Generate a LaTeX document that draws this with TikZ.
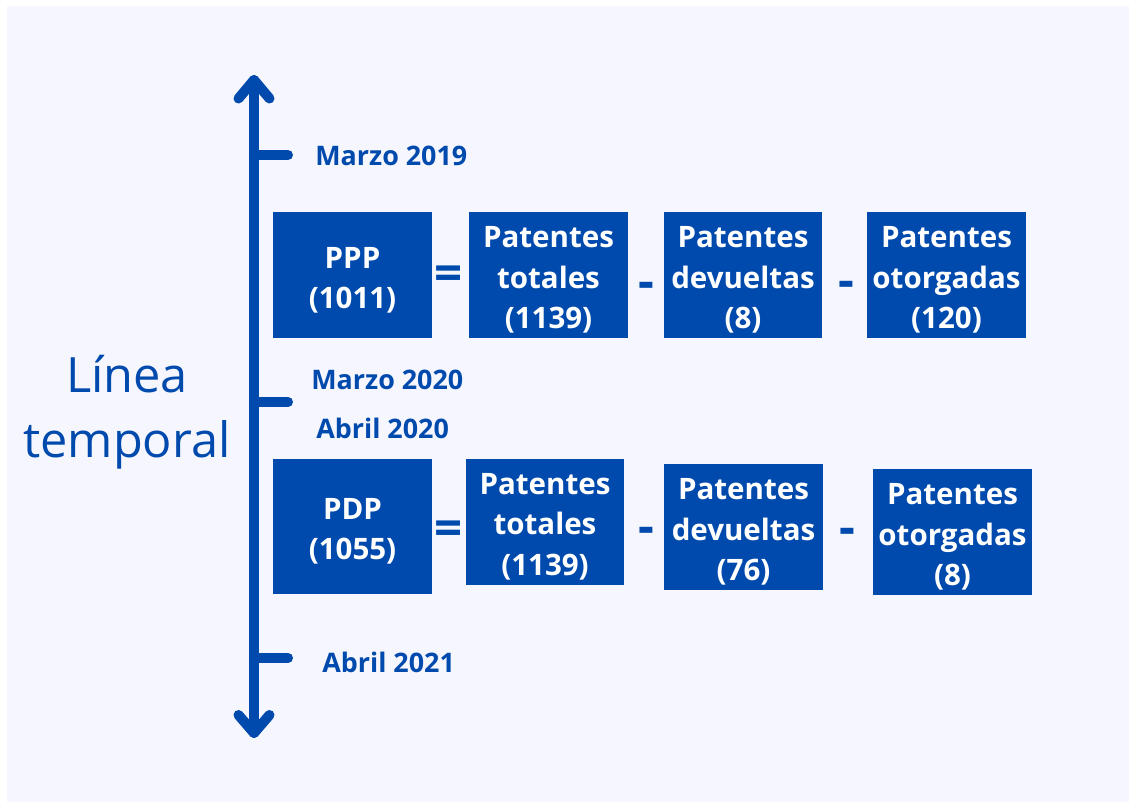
\documentclass[tikz,border=0pt]{standalone}
\usepackage{fontspec}
\setmainfont{Open Sans}
\usepackage{tikz}
\definecolor{tlblue}{RGB}{0,74,173}
\definecolor{tlpanel}{RGB}{245,246,254}
\tikzset{
	patbox/.style={fill=tlblue, inner sep=0pt, minimum width=3.18cm, minimum height=2.52cm},
	pattext/.style={text=white, align=center, inner sep=0pt, font=\bfseries\fontsize{16.8}{23}\selectfont},
	opsign/.style={text=tlblue, inner sep=0pt, font=\bfseries\fontsize{28}{30}\selectfont},
	datelabel/.style={text=tlblue, anchor=west, inner sep=0pt, font=\bfseries\fontsize{15.3}{18}\selectfont},
	axisline/.style={draw=tlblue, line width=5.7pt, line cap=round, line join=round}
}
% filled box with its text set a little below the middle
\def\patnode[#1](#2)(#3)#4{\node[patbox,#1] (#2) at (#3) {}; \node[pattext] (#2-t) at ([yshift=-0.1cm]#2.center) {#4};}

\begin{document}
\begin{tikzpicture}[x=0.02cm, y=-0.02cm]
			%%%%% START %%%%%
			
			\useasboundingbox (0, 0) rectangle (1129, 802);
			\fill[white] (0, 0) rectangle (1129, 802);
			\fill[tlpanel] (7, 6) rectangle (1129, 802);
			
			% axis with both arrow ends
			\coordinate (top) at (254, 80);
			\coordinate (bottom) at (254, 733);
			\draw[axisline] (top) -- (bottom);
			\draw[axisline] (top) ++(-15.5, 18.5) -- (top) -- ++(15.5, 18.5);
			\draw[axisline] (bottom) ++(-15.5, -18) -- (bottom) -- ++(15.5, -18);
			
			% ticks
			\draw[axisline] (254, 155) -- (288, 155);
			\draw[axisline] (254, 402) -- (288, 402);
			\draw[axisline] (254, 658) -- (288, 658);
			
			\node[datelabel] (mar19) at (315, 156) {Marzo 2019};
			\node[datelabel] (mar20) at (311, 380) {Marzo 2020};
			\node[datelabel] (abr20) at (316, 428) {Abril 2020};
			\node[datelabel] (abr21) at (322, 662) {Abril 2021};
			
			\node[text=tlblue, align=center, inner sep=0pt, font=\fontsize{27.7}{37}\selectfont] (title) at (127, 412) {Línea\\temporal};
			
			% first row
			\patnode[](ppp)(352.5, 275){PPP\\(1011)}
			\patnode[](tot1)(548.5, 275){Patentes\\totales\\(1139)}
			\patnode[](dev1)(743, 275){Patentes\\devueltas\\(8)}
			\patnode[](oto1)(946.5, 275){Patentes\\otorgadas\\(120)}
			\node[opsign] (eq1) at (449, 278) {=};
			\node[opsign] (minA1) at (646, 290) {-};
			\node[opsign] (minB1) at (846.5, 289) {-};
			
			% second row
			\patnode[minimum height=2.72cm](pdp)(352.5, 526.5){PDP\\(1055)}
			\patnode[](tot2)(545, 521.5){Patentes\\totales\\(1139)}
			\patnode[](dev2)(743.5, 527){Patentes\\devueltas\\(76)}
			\patnode[](oto2)(952.5, 532){Patentes\\otorgadas\\(8)}
			\node[opsign] (eq2) at (449, 533) {=};
			\node[opsign] (minA2) at (646, 535) {-};
			\node[opsign] (minB2) at (847, 536) {-};
			
			%%%%% END %%%%%
		\end{tikzpicture}
\end{document}
